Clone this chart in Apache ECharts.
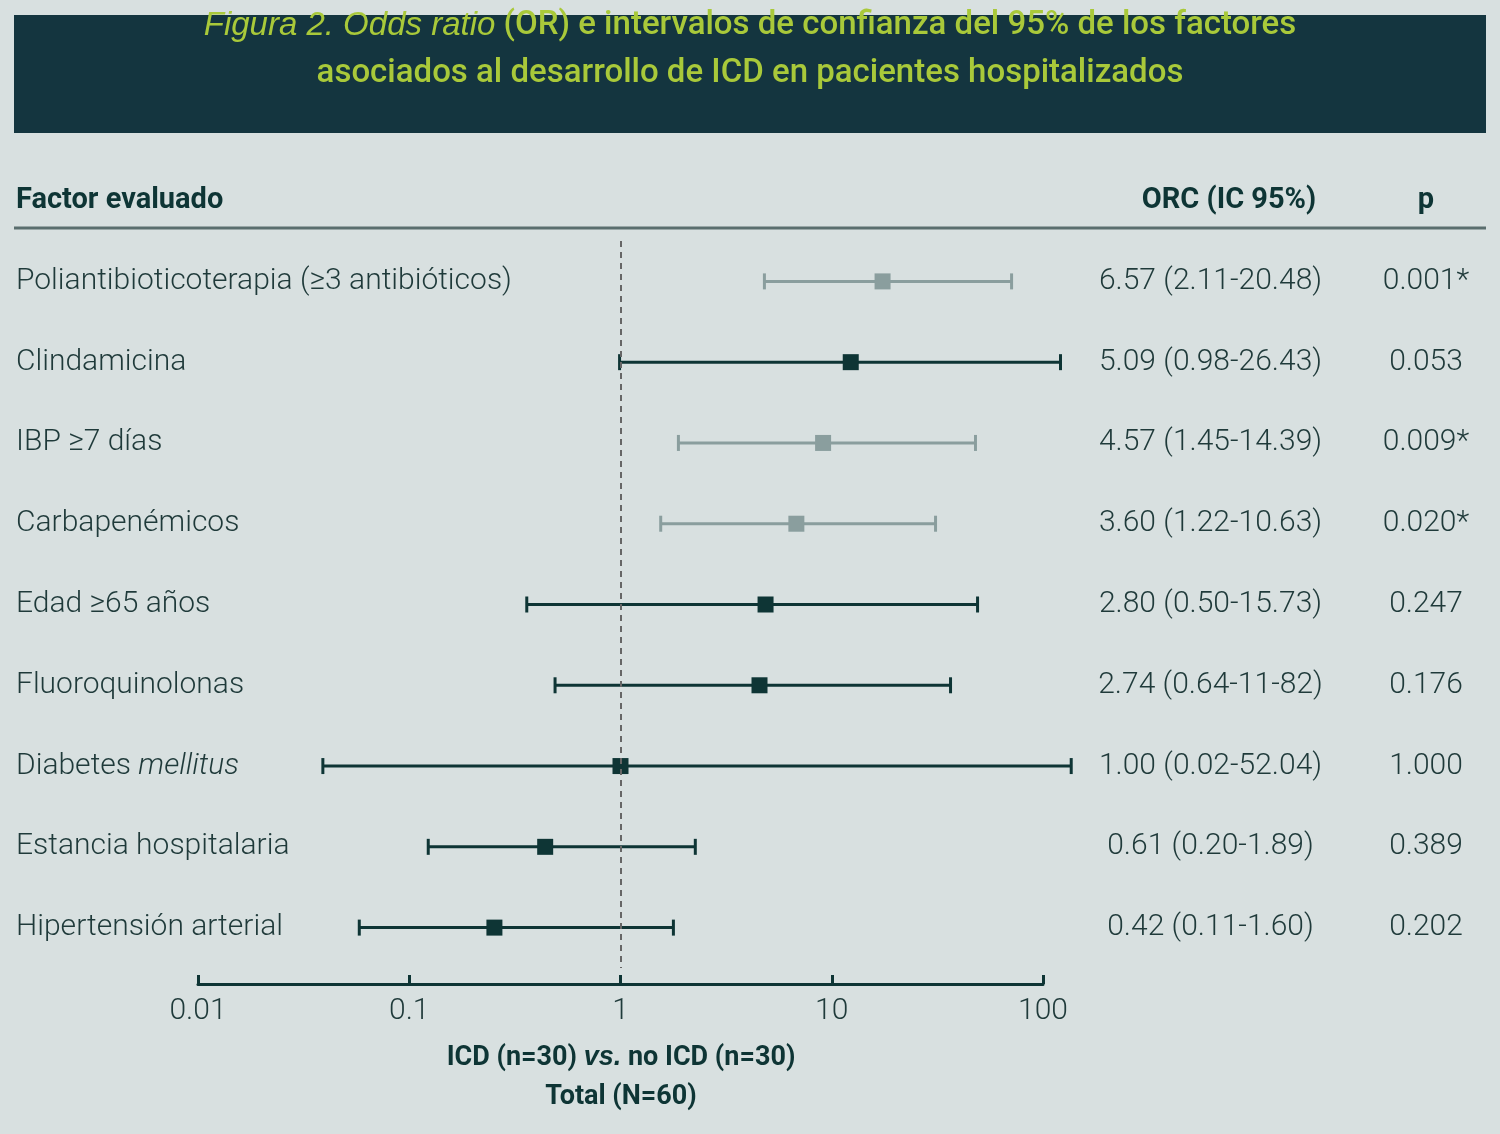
<!DOCTYPE html>
<html><head><meta charset="utf-8">
<script src="https://cdn.jsdelivr.net/npm/echarts@6/dist/echarts.min.js"></script>
<style>html,body{margin:0;padding:0;background:#d8e0e0}#main{width:1500px;height:1134px}</style>
</head><body><div id="main"></div>
<script>
// factores, en orden de arriba abajo
var factors = ['Poliantibioticoterapia (≥3 antibióticos)', 'Clindamicina', 'IBP ≥7 días', 'Carbapenémicos',
    'Edad ≥65 años', 'Fluoroquinolonas', 'Diabetes mellitus', 'Estancia hospitalaria', 'Hipertensión arterial'];
// posiciones (escala log)
var pointVals = [17.4, 12.3, 9.1, 6.8, 4.86, 4.55, 1.0, 0.44, 0.253];
var lowVals = [4.8, 0.99, 1.88, 1.55, 0.36, 0.49, 0.039, 0.123, 0.058];
var highVals = [71, 121, 47.9, 31, 49, 36.5, 136, 2.26, 1.78];
var significant = [true, false, true, true, false, false, false, false, false];
var orcLabels = ['6.57 (2.11-20.48)', '5.09 (0.98-26.43)', '4.57 (1.45-14.39)', '3.60 (1.22-10.63)',
    '2.80 (0.50-15.73)', '2.74 (0.64-11-82)', '1.00 (0.02-52.04)', '0.61 (0.20-1.89)', '0.42 (0.11-1.60)'];
var pLabels = ['0.001*', '0.053', '0.009*', '0.020*', '0.247', '0.176', '1.000', '0.389', '0.202'];
var xTicks = [0.01, 0.1, 1, 10, 100];

var DARK = '#0e3535', GRAY = '#8a9e9e';
var chart = echarts.init(document.getElementById('main'));

var data = factors.map(function(f, i) {
    return [i, lowVals[i], pointVals[i], highVals[i], significant[i] ? 1 : 0];
});

var option = {
    backgroundColor: '#d8e0e0',
    textStyle: { fontFamily: 'Roboto' },
    grid: { left: 198, right: 457, top: 241, height: 727 },
    xAxis: {
        type: 'log', logBase: 10, min: 0.01, max: 100, offset: 16,
        axisLine: { show: true, lineStyle: { color: DARK, width: 3 } },
        axisTick: { show: true, inside: true, length: 9, lineStyle: { color: DARK, width: 3 } },
        axisLabel: {
            color: '#1f3a3a', fontSize: 30, fontWeight: 300, margin: 12,
            formatter: function(v) { return xTicks.indexOf(+v.toPrecision(3)) >= 0 ? String(+v.toPrecision(3)) : ''; }
        },
        splitLine: { show: false }
    },
    yAxis: [{
        type: 'category', inverse: true, data: factors,
        axisLine: { show: false }, axisTick: { show: false },
        axisLabel: {
            align: 'left', margin: 182, color: '#1f3a3a', fontSize: 30, fontWeight: 300,
            formatter: function(v) { return v === 'Diabetes mellitus' ? 'Diabetes {i|mellitus}' : v; },
            rich: { i: { fontStyle: 'italic', fontSize: 30, fontWeight: 300, color: '#1f3a3a' } }
        }
    }, {
        type: 'category', inverse: true, position: 'right', data: factors,
        axisLine: { show: false }, axisTick: { show: false },
        axisLabel: {
            align: 'left', margin: 45,
            formatter: function(v, i) { return '{a|' + orcLabels[i] + '}{b|' + pLabels[i] + '}'; },
            rich: {
                a: { width: 245, align: 'center', fontSize: 30, fontWeight: 300, color: '#1f3a3a' },
                b: { width: 186, align: 'center', fontSize: 30, fontWeight: 300, color: '#1f3a3a' }
            }
        }
    }],
    series: [{
        type: 'custom', clip: false,
        renderItem: function(params, api) {
            var y = api.value(0);
            var lo = api.coord([api.value(1), y]);
            var pt = api.coord([api.value(2), y]);
            var hi = api.coord([api.value(3), y]);
            var c = api.value(4) ? GRAY : DARK;
            var st = { stroke: c, lineWidth: 3 };
            return {
                type: 'group', children: [
                    { type: 'line', shape: { x1: lo[0], y1: lo[1], x2: hi[0], y2: hi[1] }, style: st },
                    { type: 'line', shape: { x1: lo[0], y1: lo[1] - 8, x2: lo[0], y2: lo[1] + 8 }, style: st },
                    { type: 'line', shape: { x1: hi[0], y1: hi[1] - 8, x2: hi[0], y2: hi[1] + 8 }, style: st },
                    { type: 'rect', shape: { x: pt[0] - 8, y: pt[1] - 8, width: 16, height: 16 }, style: { fill: c } }
                ]
            };
        },
        encode: { x: [1, 2, 3], y: 0 },
        data: data,
        markLine: {
            silent: true, symbol: 'none', label: { show: false },
            lineStyle: { color: '#666', type: [6, 5], width: 2 },
            data: [{ xAxis: 1 }]
        },
        z: 3
    }],
    graphic: [
        { type: 'rect', shape: { x: 14, y: 15, width: 1472, height: 118 }, style: { fill: '#14353f' } },
        { type: 'text', x: 750, y: 50, style: {
            text: '{i|Figura 2. Odds ratio} (OR) e intervalos de confianza del 95% de los factores\nasociados al desarrollo de ICD en pacientes hospitalizados',
            fill: '#a9c93a', font: '500 33px Roboto', align: 'center', verticalAlign: 'middle', lineHeight: 48,
            rich: { i: { fontStyle: 'italic', fontWeight: 500, fontSize: 33, fill: '#a9c93a' } } } },
        { type: 'text', x: 16, y: 201, style: { text: 'Factor evaluado', fill: '#0e3535', font: 'bold 29px Roboto', verticalAlign: 'middle' } },
        { type: 'text', x: 1229, y: 201, style: { text: 'ORC (IC 95%)', fill: '#0e3535', font: 'bold 29px Roboto', align: 'center', verticalAlign: 'middle' } },
        { type: 'text', x: 1426, y: 201, style: { text: 'p', fill: '#0e3535', font: 'bold 29px Roboto', align: 'center', verticalAlign: 'middle' } },
        { type: 'line', shape: { x1: 14, y1: 228, x2: 1486, y2: 228 }, style: { stroke: '#5a6e6e', lineWidth: 3 } },
        { type: 'text', x: 621, y: 1058, style: {
            text: 'ICD (n=30) {i|vs.} no ICD (n=30)', fill: '#0e3535', font: 'bold 27px Roboto', align: 'center', verticalAlign: 'middle',
            rich: { i: { fontStyle: 'italic', fontWeight: 'bold', fontSize: 27, fill: '#0e3535' } } } },
        { type: 'text', x: 621, y: 1097, style: { text: 'Total (N=60)', fill: '#0e3535', font: 'bold 27px Roboto', align: 'center', verticalAlign: 'middle' } }
    ]
};
chart.setOption(option);
</script></body></html>
